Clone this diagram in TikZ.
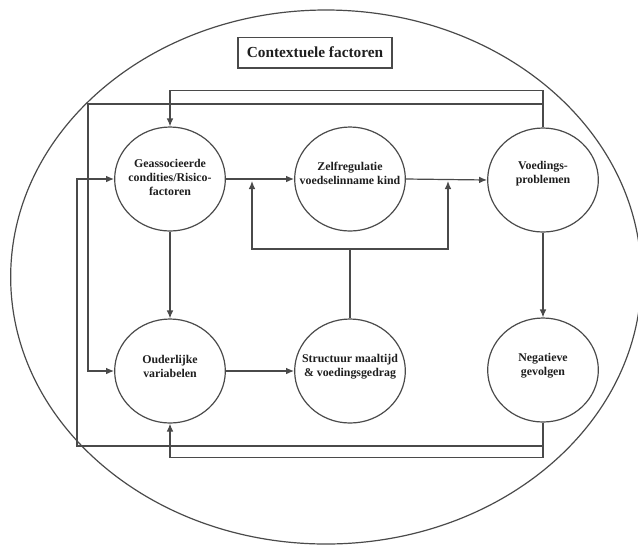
\documentclass[tikz,border=0pt]{standalone}
\usepackage{fontspec}
\setmainfont{Liberation Serif}
\newfontfamily\diagserif{Liberation Serif}
\usetikzlibrary{shapes.geometric,arrows.meta,calc}
\definecolor{linegray}{HTML}{4A4A4A}
\definecolor{inkgray}{HTML}{1E1E1E}
\begin{document}
\begin{tikzpicture}[x=0.75pt,y=-0.75pt,
  line/.style={draw=linegray, line width=0.9pt},
  arr/.style={line, -{Latex[length=6pt,width=5pt]}},
  bubble/.style={ellipse, draw=linegray, line width=0.9pt,
    minimum width=83pt, minimum height=78pt, inner sep=0pt},
  txt/.style={font=\diagserif\bfseries\fontsize{8.9}{10.5}\selectfont,
    align=center, text=inkgray, inner sep=0pt},
]
\useasboundingbox (0,0) rectangle (638,544);

% outer context ellipse
\begin{scope}
  \clip (0,0) rectangle (638,544);
  \draw[line] (326,277) ellipse [x radius=236.5pt, y radius=200.25pt];
\end{scope}

% title box
\node[draw=linegray, line width=1pt, minimum width=115.5pt, minimum height=23pt,
  inner sep=0pt, text=inkgray, font=\diagserif\bfseries\fontsize{11.5}{13}\selectfont]
  (title) at (315,52.5) {Contextuele factoren};

% factors
\node[bubble, label={[txt, yshift=1.5pt]center:{Geassocieerde\\condities/Risico-\\factoren}}]
  (G) at (170,179) {};
\node[bubble, label={[txt, yshift=4.5pt]center:{Zelfregulatie\\voedselinname kind}}]
  (Z) at (350,179) {};
\node[bubble, label={[txt, yshift=5pt]center:{Voedings-\\problemen}}]
  (V) at (543,180) {};
\node[bubble, label={[txt, yshift=3.5pt]center:{Ouderlijke\\variabelen}}]
  (O) at (170,371) {};
\node[bubble, label={[txt, yshift=3.5pt]center:{Structuur maaltijd\\\& voedingsgedrag}}]
  (S) at (350,371) {};
\node[bubble, label={[txt, yshift=3.5pt]center:{Negatieve\\gevolgen}}]
  (N) at (543,370) {};

% direct influences
\draw[arr] (G.east) -- (Z.west);
\draw[arr] (Z.east) -- (V.west);
\draw[arr] (G.south) -- (O.north);
\draw[arr] (V.south) -- (N.north);
\draw[arr] (O.east) -- (S.west);

% meal structure feeds into both main links
\coordinate (fb) at (350,249);
\coordinate (j1) at (252,181);
\coordinate (j2) at (448,181);
\draw[line] (S.north) -- (fb);
\draw[arr] (fb) -| (j1);
\draw[arr] (fb) -| (j2);

% feedback loops from the outcomes
\coordinate (laneB) at (88,104);
\coordinate (laneC) at (77,446);
\draw[arr] (V.north) -- ++(0,-37) -| (G.north);
\draw[arr] (V.north) |- (laneB) |- (O.west);
\draw[arr] (N.south) |- (laneC) |- (G.west);
\draw[arr] (N.south) -- ++(0,35) -| (O.south);
\end{tikzpicture}
\end{document}
